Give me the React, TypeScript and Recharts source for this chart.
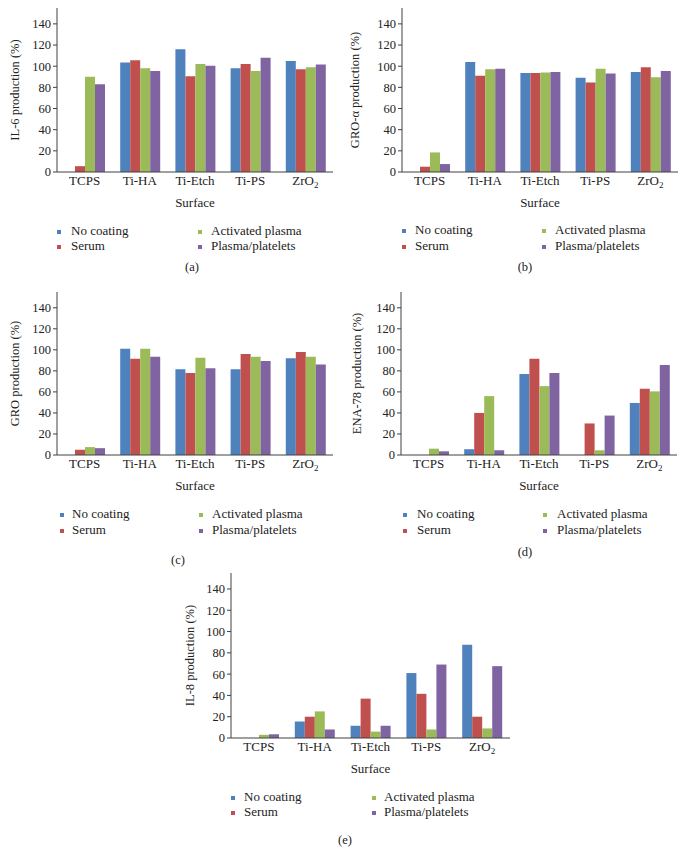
import React from 'react';
import { BarChart, Bar, XAxis, YAxis } from 'recharts';

const surfaces = ['TCPS', 'Ti-HA', 'Ti-Etch', 'Ti-PS', 'ZrO2'];
const seriesNames = ['No coating', 'Serum', 'Activated plasma', 'Plasma/platelets'];
const seriesKeys = ['noCoating', 'serum', 'activated', 'platelets'];
const colors = ['#4F81BD', '#C0504D', '#9BBB59', '#8064A2'];
const yTicks = [0, 20, 40, 60, 80, 100, 120, 140];

// values per surface: [No coating, Serum, Activated plasma, Plasma/platelets]
const il6 = [
  [0, 5.5, 90, 83],
  [103.5, 105.5, 98, 95.5],
  [116, 90.5, 102, 100.5],
  [98, 102, 95.5, 108],
  [105, 97, 99, 101.5],
];
const groAlpha = [
  [0, 5, 18.5, 7.5],
  [104, 91, 97, 97.5],
  [93.5, 93.5, 94, 94.5],
  [89, 84.5, 97.5, 93],
  [94.5, 99, 89.5, 95.5],
];
const gro = [
  [0, 5, 7.5, 6.5],
  [101, 91.5, 101, 93.5],
  [81.5, 78, 92.5, 82.5],
  [81.5, 96, 93.5, 89.5],
  [92, 98, 93.5, 86],
];
const ena78 = [
  [0, 0, 6, 3.5],
  [5.5, 40, 56, 4.5],
  [77, 91.5, 65.5, 78],
  [0, 30, 4.5, 37.5],
  [49.5, 63, 60.5, 85.5],
];
const il8 = [
  [0, 0, 3, 3.5],
  [15.5, 20, 25, 8],
  [11.5, 37, 6, 11.5],
  [61, 41.5, 8, 69],
  [87.5, 20, 9, 67.5],
];

const FONT = '"Liberation Serif", "Times New Roman", serif';
const AXIS = '#404040';

function buildRows(values: number[][]) {
  return surfaces.map((s, i) => {
    const row: any = { surface: s };
    seriesKeys.forEach((k, j) => (row[k] = values[i][j]));
    return row;
  });
}

const XTick = (props: any) => {
  const { x, y, payload } = props;
  const v = String(payload.value);
  if (v === 'ZrO2') {
    return (
      <text x={x} y={y} textAnchor="middle" fontFamily={FONT} fontSize={13} fill="#222" dy={7}>
        <tspan>ZrO</tspan>
        <tspan fontSize={9} dy={3}>2</tspan>
      </text>
    );
  }
  return (
    <text x={x} y={y} textAnchor="middle" fontFamily={FONT} fontSize={13} fill="#222" dy={7}>
      {v}
    </text>
  );
};

type PanelProps = {
  data: number[][];
  yLabel: string;
  caption: string;
  x0: number;
  y0: number;
  axisX: number;
  topY: number;
  baseY: number;
  rightX: number;
  labelX: number;
  legend: { m1: number; t1: number; m2: number; t2: number; r1: number; r2: number };
  capX: number;
  capY: number;
};

const Panel = (p: PanelProps) => {
  const rows = buildRows(p.data);
  const width = p.rightX - p.x0 + 6;
  const xh = 42;
  const height = p.baseY - p.y0 + xh;
  const legendItems = [
    { name: seriesNames[0], color: colors[0], mx: p.legend.m1, tx: p.legend.t1, y: p.legend.r1 },
    { name: seriesNames[1], color: colors[1], mx: p.legend.m1, tx: p.legend.t1, y: p.legend.r2 },
    { name: seriesNames[2], color: colors[2], mx: p.legend.m2, tx: p.legend.t2, y: p.legend.r1 },
    { name: seriesNames[3], color: colors[3], mx: p.legend.m2, tx: p.legend.t2, y: p.legend.r2 },
  ];
  return (
    <>
      <div style={{ position: 'absolute', left: p.x0, top: p.y0 }}>
        <BarChart
          width={width}
          height={height}
          data={rows}
          margin={{ top: p.topY - p.y0, right: 6, left: 0, bottom: 0 }}
          barGap={0}
        >
          <XAxis
            dataKey="surface"
            height={xh}
            tickLine={false}
            axisLine={{ stroke: AXIS }}
            tick={<XTick />}
            tickSize={4}
            interval={0}
            label={{ value: 'Surface', position: 'insideBottom', offset: 7, fontFamily: FONT, fontSize: 13, fill: '#222' }}
          />
          <YAxis
            width={p.axisX - p.x0}
            domain={[0, 155]}
            ticks={yTicks}
            interval={0}
            allowDataOverflow
            axisLine={{ stroke: AXIS }}
            tickLine={{ stroke: AXIS }}
            tickSize={4}
            tickMargin={2}
            tick={{ fontFamily: FONT, fontSize: 12.5, fill: '#222' }}
            label={{
              value: p.yLabel,
              angle: -90,
              position: 'insideLeft',
              offset: p.labelX - p.x0,
              style: { textAnchor: 'middle' },
              fontFamily: FONT,
              fontSize: 12.5,
              fill: '#222',
            }}
          />
          {seriesKeys.map((k, i) => (
            <Bar key={k} dataKey={k} name={seriesNames[i]} fill={colors[i]} barSize={10} isAnimationActive={false} />
          ))}
        </BarChart>
      </div>
      {legendItems.map((it) => (
        <React.Fragment key={it.name}>
          <div
            style={{
              position: 'absolute',
              left: it.mx,
              top: it.y - 2,
              width: 4,
              height: 4,
              background: it.color,
            }}
          />
          <div
            style={{
              position: 'absolute',
              left: it.tx,
              top: it.y - 10,
              fontFamily: FONT,
              fontSize: 13,
              lineHeight: '18px',
              color: '#222',
              whiteSpace: 'nowrap',
            }}
          >
            {it.name}
          </div>
        </React.Fragment>
      ))}
      <div
        style={{
          position: 'absolute',
          left: p.capX - 20,
          width: 40,
          top: p.capY - 9,
          textAlign: 'center',
          fontFamily: FONT,
          fontSize: 12.5,
          lineHeight: '18px',
          color: '#222',
        }}
      >
        {p.caption}
      </div>
    </>
  );
};

export default function App() {
  return (
    <div style={{ position: 'absolute', left: 0, top: 0, width: 693, height: 865, background: '#fff' }}>
      <Panel
        data={il6}
        yLabel="IL-6 production (%)"
        caption="(a)"
        x0={0}
        y0={0}
        axisX={57}
        topY={8}
        baseY={172}
        rightX={333}
        labelX={15}
        legend={{ m1: 57, t1: 71, m2: 198, t2: 211, r1: 232, r2: 247 }}
        capX={192}
        capY={267}
      />
      <Panel
        data={groAlpha}
        yLabel="GRO-α production (%)"
        caption="(b)"
        x0={340}
        y0={0}
        axisX={402}
        topY={8}
        baseY={172}
        rightX={678}
        labelX={355}
        legend={{ m1: 402, t1: 415, m2: 542, t2: 555, r1: 231, r2: 247 }}
        capX={525}
        capY={267}
      />
      <Panel
        data={gro}
        yLabel="GRO production (%)"
        caption="(c)"
        x0={0}
        y0={285}
        axisX={57}
        topY={292}
        baseY={455}
        rightX={333}
        labelX={15}
        legend={{ m1: 60, t1: 72, m2: 199, t2: 212, r1: 515, r2: 531 }}
        capX={178}
        capY={560}
      />
      <Panel
        data={ena78}
        yLabel="ENA-78 production (%)"
        caption="(d)"
        x0={340}
        y0={285}
        axisX={401}
        topY={292}
        baseY={455}
        rightX={677}
        labelX={357}
        legend={{ m1: 403, t1: 417, m2: 543, t2: 557, r1: 515, r2: 531 }}
        capX={525}
        capY={552}
      />
      <Panel
        data={il8}
        yLabel="IL-8 production (%)"
        caption="(e)"
        x0={170}
        y0={565}
        axisX={231}
        topY={573}
        baseY={738}
        rightX={510}
        labelX={190}
        legend={{ m1: 231, t1: 244, m2: 372, t2: 384, r1: 798, r2: 813 }}
        capX={345}
        capY={840}
      />
    </div>
  );
}
